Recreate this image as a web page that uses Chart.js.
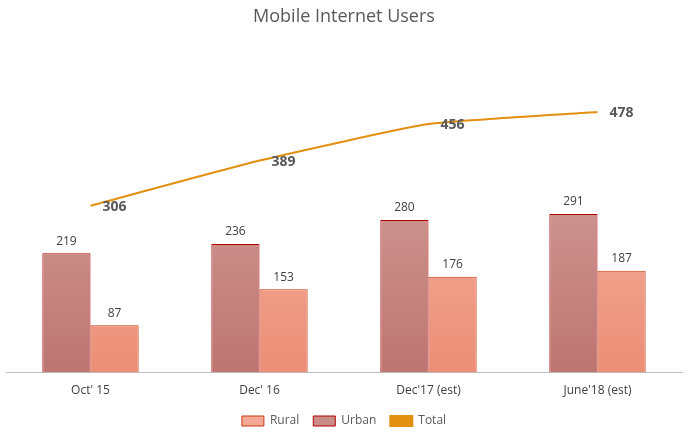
<!DOCTYPE html>
<html>
<head>
<meta charset="utf-8">
<script src="https://cdn.jsdelivr.net/npm/chart.js@4"></script>
<style>
  html, body { margin: 0; padding: 0; background: #fff; }
  #wrap { width: 690px; height: 441px; }
</style>
</head>
<body>
<div id="wrap"><canvas id="usersChart"></canvas></div>
<script>
const categories = ["Oct' 15", "Dec' 16", "Dec'17 (est)", "June'18 (est)"];
const urbanValues = [219, 236, 280, 291];
const ruralValues = [87, 153, 176, 187];
const totalValues = [306, 389, 456, 478];

function vertGradient(ctx, area, top, bottom) {
    const g = ctx.createLinearGradient(0, area.top, 0, area.bottom);
    g.addColorStop(0, top);
    g.addColorStop(1, bottom);
    return g;
}

// labels above bars, bold labels next to line points
const valueLabels = {
    id: 'valueLabels',
    afterDatasetsDraw(chart) {
        const ctx = chart.ctx;
        ctx.save();
        chart.data.datasets.forEach((ds, i) => {
            const meta = chart.getDatasetMeta(i);
            meta.data.forEach((el, j) => {
                const v = ds.data[j];
                if (ds.type === 'line') {
                    ctx.font = 'bold 14px "Open Sans", sans-serif';
                    ctx.fillStyle = '#595959';
                    ctx.textAlign = 'left';
                    ctx.textBaseline = 'middle';
                    ctx.fillText(v, el.x + 12, el.y + 1);
                } else {
                    ctx.font = '12px "Open Sans", sans-serif';
                    ctx.fillStyle = '#404040';
                    ctx.textAlign = 'center';
                    ctx.textBaseline = 'bottom';
                    ctx.fillText(v, el.x, el.y - 6);
                }
            });
        });
        ctx.restore();
    }
};

new Chart(document.getElementById('usersChart'), {
    type: 'bar',
    data: {
        labels: categories,
        datasets: [
            {
                type: 'line',
                label: 'Total',
                data: totalValues,
                borderColor: '#e38f10',
                borderWidth: 2,
                pointRadius: 0,
                tension: 0.15,
                fill: false,
                pointStyle: 'line',
                order: 0
            },
            {
                label: 'Urban',
                data: urbanValues,
                backgroundColor: c => c.chart.chartArea ? vertGradient(c.chart.ctx, c.chart.chartArea, '#dcb0ac', '#bd7570') : '#c98c87',
                borderColor: '#b00000',
                borderWidth: 1,
                categoryPercentage: 0.57,
                barPercentage: 1,
                order: 1
            },
            {
                label: 'Rural',
                data: ruralValues,
                backgroundColor: c => c.chart.chartArea ? vertGradient(c.chart.ctx, c.chart.chartArea, '#f8c4b6', '#ec8e76') : '#f2a894',
                borderColor: '#c83a10',
                borderWidth: 1,
                categoryPercentage: 0.57,
                barPercentage: 1,
                order: 1
            }
        ]
    },
    options: {
        responsive: true,
        maintainAspectRatio: false,
        animation: false,
        layout: { padding: { left: 6, right: 8, top: 0, bottom: 4 } },
        plugins: {
            title: {
                display: true,
                text: 'Mobile Internet Users',
                color: '#595959',
                font: { family: '"Open Sans", sans-serif', size: 18, weight: 'normal' },
                padding: { top: 6, bottom: 18 }
            },
            legend: {
                position: 'bottom',
                reverse: true,
                labels: {
                    color: '#595959',
                    font: { family: '"Open Sans", sans-serif', size: 12 },
                    boxWidth: 22,
                    boxHeight: 10,
                    padding: 14,
                    generateLabels(chart) {
                        const items = Chart.defaults.plugins.legend.labels.generateLabels(chart);
                        items.forEach(it => {
                            const ds = chart.data.datasets[it.datasetIndex];
                            if (ds.type === 'line') {
                                it.pointStyle = 'line';
                                it.fillStyle = '#e38f10';
                                it.strokeStyle = '#e38f10';
                                it.lineWidth = 2;
                            } else if (ds.label === 'Urban') {
                                it.fillStyle = '#c98c87';
                                it.strokeStyle = '#b00000';
                            } else {
                                it.fillStyle = '#f2a894';
                                it.strokeStyle = '#c83a10';
                            }
                        });
                        return items;
                    }
                }
            },
            tooltip: { enabled: false }
        },
        scales: {
            x: {
                grid: { display: false },
                border: { display: true, color: '#bfbfbf' },
                ticks: { color: '#404040', font: { family: '"Open Sans", sans-serif', size: 12 } }
            },
            y: {
                display: false,
                min: 0,
                max: 600
            }
        }
    },
    plugins: [valueLabels]
});
</script>
</body>
</html>
